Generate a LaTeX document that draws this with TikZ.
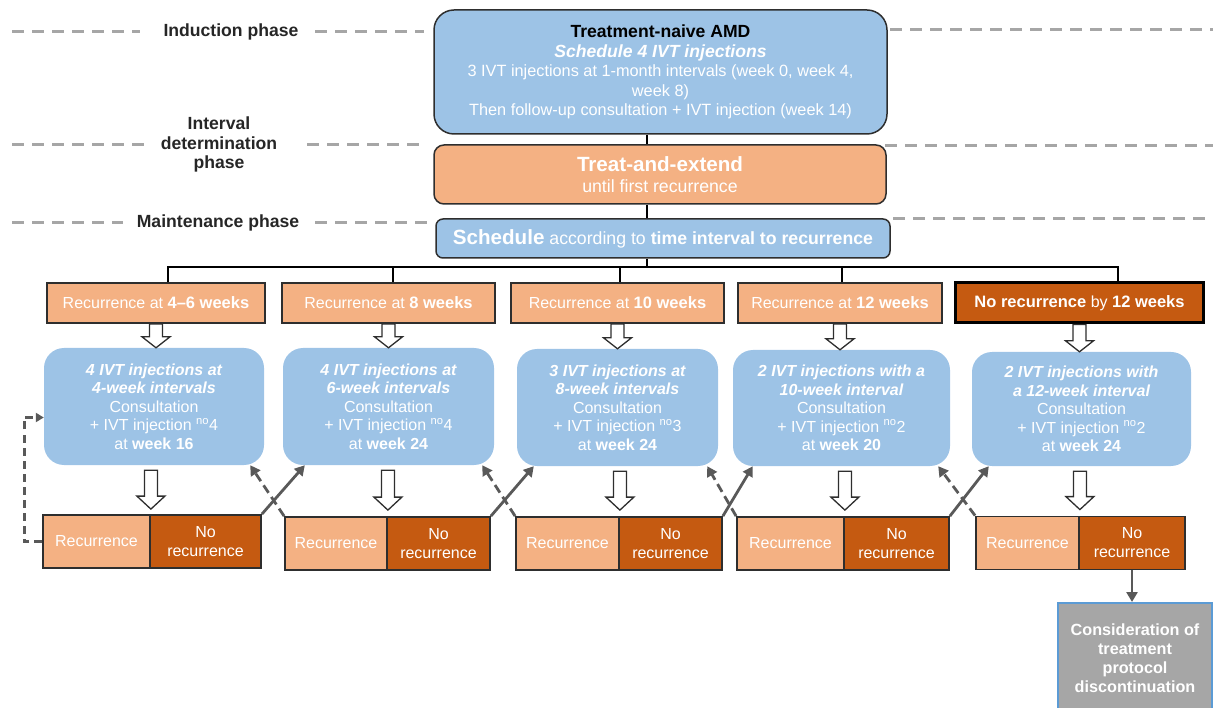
\documentclass[tikz,border=0pt]{standalone}
\usepackage{fontspec}
\setmainfont{Liberation Sans}
\usetikzlibrary{arrows.meta,calc}
\definecolor{lblue}{HTML}{9DC3E6}
\definecolor{lorange}{HTML}{F4B183}
\definecolor{dorange}{HTML}{C55A11}
\definecolor{agray}{HTML}{595959}
\definecolor{phgray}{HTML}{A6A6A6}
\definecolor{boxgray}{HTML}{A6A6A6}
\definecolor{gborder}{HTML}{5B9BD5}
\definecolor{edge}{HTML}{2E2E2E}
\definecolor{labtext}{HTML}{262626}
\newcommand\hollowdown[3]{%
  \filldraw[draw=edge, fill=white, line width=1.3pt, line join=miter]
    let \p1=#1, \p2=#2 in
    (\x1-6.5pt,\y1) -- (\x1+6.5pt,\y1) -- (\x1+6.5pt,\y2+#3) -- (\x1+14pt,\y2+#3)
    -- (\x1,\y2) -- (\x1-14pt,\y2+#3) -- (\x1-6.5pt,\y2+#3) -- cycle;}
\begin{document}
\begin{tikzpicture}[x=1pt,y=-1pt,
  every node/.style={inner sep=0pt, align=center},
  phase/.style={font=\fontsize{17.6}{19.5}\selectfont\bfseries, text=labtext},
  phdash/.style={draw=phgray, line width=3pt, dash pattern=on 12pt off 8pt},
  bigbox/.style={draw=edge, line width=1.5pt, text=white},
  recbox/.style={draw=edge, line width=1.8pt, fill=lorange, text=white,
    minimum height=40pt, font=\fontsize{16}{18.5}\selectfont},
  ivtbox/.style={fill=lblue, rounded corners=20pt, text=white,
    font=\fontsize{16}{18.5}\selectfont},
  halfbox/.style={draw=edge, line width=1.8pt, text=white, minimum height=53pt,
    font=\fontsize{16}{19}\selectfont},
  yesbox/.style={halfbox, fill=lorange},
  nobox/.style={halfbox, fill=dorange},
  busline/.style={draw=black, line width=2.5pt},
  xarr/.style={draw=agray, line width=2.8pt, -{Triangle[length=10pt,width=11pt]}},
  xdash/.style={xarr, dash pattern=on 9pt off 5pt},
  loopdash/.style={draw=agray, line width=2.8pt, dash pattern=on 8pt off 5pt,
    -{Triangle[length=8pt,width=9pt]}}
]
\useasboundingbox (0,0) rectangle (1213,708);

% phase labels and separators
\node[phase] (ind) at (231,32) {Induction phase};
\node[phase] (intv) at (219,144.5) {Interval\\determination\\phase};
\node[phase] (mnt) at (218,223) {Maintenance phase};
\draw[phdash] (12,32) -- (140,32);
\draw[phdash] (315,32) -- (424,32);
\draw[phdash] (890,30) -- (1213,30);
\draw[phdash] (12,145) -- (147,145);
\draw[phdash] (307,145) -- (422,145);
\draw[phdash] (885,146) -- (1213,146);
\draw[phdash] (12,223) -- (123,223);
\draw[phdash] (315,223) -- (430,223);
\draw[phdash] (893,219) -- (1213,219);

% top column
\node[bigbox, fill=lblue, rounded corners=20pt, minimum width=453pt, minimum height=124pt,
  font=\fontsize{16.3}{19.5}\selectfont] (top) at (660.5,72)
  {{\fontsize{17.6}{19.5}\selectfont\bfseries\color{black}Treatment-naive AMD}\\
   {\fontsize{17.6}{19.5}\selectfont\bfseries\itshape Schedule 4 IVT injections}\\
   3 IVT injections at 1-month intervals (week 0, week 4,\\
   week 8)\\
   Then follow-up consultation + IVT injection (week 14)};
\node[bigbox, fill=lorange, rounded corners=10pt, minimum width=452pt, minimum height=59pt,
  font=\fontsize{17.7}{21}\selectfont] (treat) at (660,174.5)
  {{\fontsize{20.6}{21}\selectfont\bfseries Treat-and-extend}\\until first recurrence};
\node[bigbox, fill=lblue, rounded corners=7pt, minimum width=454pt, minimum height=39pt,
  font=\fontsize{17.7}{21}\selectfont] (sched) at (663,238.5)
  {{\fontsize{20.6}{21}\selectfont\bfseries Schedule} according to \textbf{time interval to recurrence}};

\coordinate (trunk) at (647,0);
\coordinate (busL) at (168,267);
\coordinate (busR) at (1118,267);
\draw[busline] (top.south -| trunk) -- (treat.north -| trunk);
\draw[busline] (treat.south -| trunk) -- (sched.north -| trunk);
\draw[busline] (sched.south -| trunk) -- (trunk |- busL);

% recurrence boxes
\node[recbox, minimum width=218pt] (r1) at (156,303) {Recurrence at {\fontsize{16.5}{18}\selectfont\bfseries 4–6 weeks}};
\node[recbox, minimum width=213pt] (r2) at (388.5,303) {Recurrence at {\fontsize{16.5}{18}\selectfont\bfseries 8 weeks}};
\node[recbox, minimum width=213pt] (r3) at (617.5,303) {Recurrence at {\fontsize{16.5}{18}\selectfont\bfseries 10 weeks}};
\node[recbox, minimum width=204pt] (r4) at (840,303) {Recurrence at {\fontsize{16.5}{18}\selectfont\bfseries 12 weeks}};
\node[recbox, fill=dorange, draw=black, line width=3pt, minimum width=248pt] (r5) at (1079.5,303)
  {{\fontsize{16.5}{18}\selectfont\bfseries No recurrence} by {\fontsize{16.5}{18}\selectfont\bfseries 12 weeks}};

\draw[busline] (r1.north -| busL) -- (busL) -- (busR) -- (r5.north -| busR);
\draw[busline] ($(r2.north)+(4.5,0)$) -- ++(0,-16);
\draw[busline] ($(r3.north)+(2.5,0)$) -- ++(0,-16);
\draw[busline] ($(r4.north)+(2,0)$) -- ++(0,-16);

% interval boxes
\node[ivtbox, minimum width=220pt, minimum height=117pt] (b1) at (154,406.5)
  {{\bfseries\itshape 4 IVT injections at}\\{\bfseries\itshape 4-week intervals}\\Consultation\\+ IVT injection \textsuperscript{no}4\\at \textbf{week 16}};
\node[ivtbox, minimum width=211pt, minimum height=117pt] (b2) at (388.5,406.5)
  {{\bfseries\itshape 4 IVT injections at}\\{\bfseries\itshape 6-week intervals}\\Consultation\\+ IVT injection \textsuperscript{no}4\\at \textbf{week 24}};
\node[ivtbox, minimum width=201pt, minimum height=117pt] (b3) at (617.5,407.5)
  {{\bfseries\itshape 3 IVT injections at}\\{\bfseries\itshape 8-week intervals}\\Consultation\\+ IVT injection \textsuperscript{no}3\\at \textbf{week 24}};
\node[ivtbox, minimum width=217pt, minimum height=116pt] (b4) at (841.5,408)
  {{\bfseries\itshape 2 IVT injections with a}\\{\bfseries\itshape 10-week interval}\\Consultation\\+ IVT injection \textsuperscript{no}2\\at \textbf{week 20}};
\node[ivtbox, minimum width=219pt, minimum height=114pt] (b5) at (1081.5,409)
  {{\bfseries\itshape 2 IVT injections with}\\{\bfseries\itshape a 12-week interval}\\Consultation\\+ IVT injection \textsuperscript{no}2\\at \textbf{week 24}};

% outcome boxes
\node[yesbox, minimum width=107pt] (rec1) at (96.5,541.5) {Recurrence};
\node[nobox, minimum width=111pt] (nr1) at (205.5,541.5) {No\\recurrence};
\node[yesbox, minimum width=102pt] (rec2) at (336,543.5) {Recurrence};
\node[nobox, minimum width=103pt] (nr2) at (438.5,543.5) {No\\recurrence};
\node[yesbox, minimum width=103pt] (rec3) at (567.5,543.5) {Recurrence};
\node[nobox, minimum width=103pt] (nr3) at (670.5,543.5) {No\\recurrence};
\node[yesbox, minimum width=107pt] (rec4) at (790.5,543.5) {Recurrence};
\node[nobox, minimum width=105pt] (nr4) at (896.5,543.5) {No\\recurrence};
\node[yesbox, minimum width=103pt] (rec5) at (1027.5,543) {Recurrence};
\node[nobox, minimum width=106pt] (nr5) at (1132,543) {No\\recurrence};

% discontinuation box
\node[draw=gborder, line width=2pt, fill=boxgray, text=white, minimum width=154pt, minimum height=110pt,
  font=\fontsize{16.2}{19}\selectfont\bfseries] (gray) at (1135,658)
  {Consideration of\\treatment\\protocol\\discontinuation};

% hollow arrows
\hollowdown{(r1.south)}{(b1.north)}{11pt}
\hollowdown{(r2.south)}{(b2.north)}{11pt}
\hollowdown{(r3.south)}{(b3.north)}{11pt}
\hollowdown{(r4.south)}{(b4.north)}{11pt}
\hollowdown{(r5.south)}{(b5.north)}{11pt}
\hollowdown{($(b1.south -| rec1.east)+(0,5)$)}{($(rec1.north east)+(0,-5)$)}{13pt}
\hollowdown{($(b2.south -| rec2.east)+(0,5)$)}{($(rec2.north east)+(0,-6)$)}{13pt}
\hollowdown{($(b3.south -| rec3.east)+(0,5)$)}{($(rec3.north east)+(0,-6)$)}{13pt}
\hollowdown{($(b4.south -| rec4.east)+(0,5)$)}{($(rec4.north east)+(0,-6)$)}{13pt}
\hollowdown{($(b5.south -| rec5.east)+(0,5)$)}{($(rec5.north east)+(0,-6)$)}{13pt}

% feedback arrows
\draw[loopdash] (rec1.west) -- ++(-18,0) |- ($(b1.west)+(0,11)$);
\draw[xarr] (nr1.north east) -- ($(b2.south west)+(22,0)$);
\draw[xarr] (nr2.north east) -- ($(b3.south west)+(17,0)$);
\draw[xarr] (nr3.north east) -- ($(b4.south west)+(20,0)$);
\draw[xarr] (nr4.north east) -- ($(b5.south west)+(17,0)$);
\draw[xdash] (rec2.north west) -- ($(b1.south east)+(-14,0)$);
\draw[xdash] (rec3.north west) -- ($(b2.south east)+(-12,0)$);
\draw[xdash] (rec4.north west) -- ($(b3.south east)+(-11,0)$);
\draw[xdash] (rec5.north west) -- ($(b4.south east)+(-12,0)$);
\draw[xarr] (nr5.south) -- (nr5.south |- gray.north);
\end{tikzpicture}
\end{document}
